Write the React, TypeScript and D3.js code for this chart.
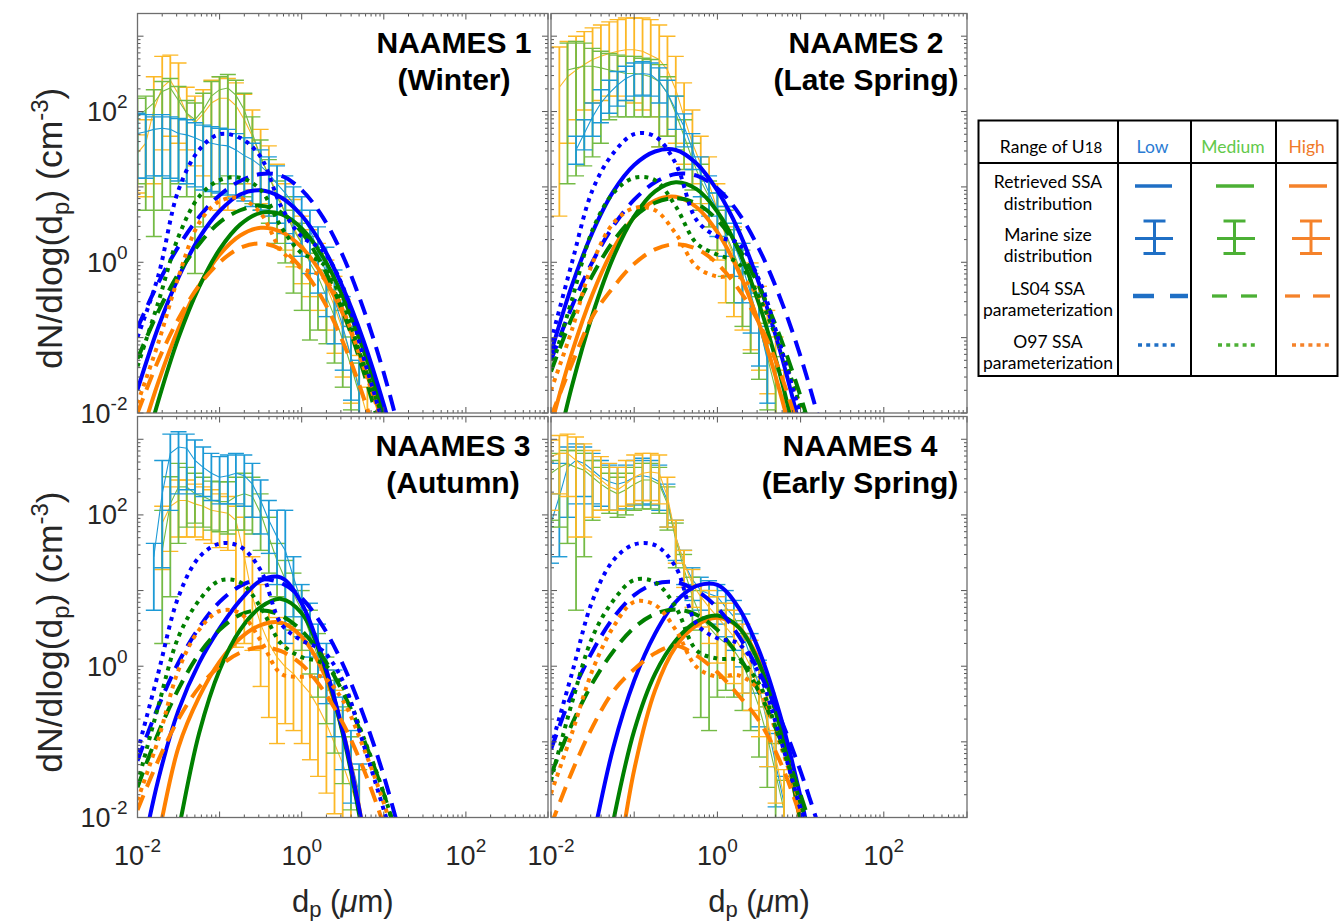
import React from 'react';
import * as d3 from 'd3';

// ---------- x grids (particle diameter, µm) ----------
const CURVE_DP = [0.01, 0.0178, 0.0316, 0.0562, 0.1, 0.178, 0.316, 0.562, 1, 1.78, 3.16, 5.62, 10, 17.8];
const MEAS_DP = [0.01, 0.0126, 0.0158, 0.02, 0.0251, 0.0316, 0.0398, 0.0501, 0.0631, 0.0794, 0.1, 0.126, 0.158, 0.2, 0.251, 0.316, 0.398, 0.501, 0.631, 0.794, 1, 1.26, 1.58, 2, 2.51, 3.16, 3.98, 5.01, 6.31];

// ---------- NAAMES 1 ----------
const N1_RET_LOW = [0.0204, 0.135, 0.63, 2.09, 4.79, 7.94, 9.0, 7.24, 4.17, 1.66, 0.468, 0.0933, 0.0129, 0.00126];
const N1_RET_MED = [0.00138, 0.0141, 0.1, 0.468, 1.48, 3.16, 4.53, 4.36, 2.82, 1.22, 0.355, 0.07, 0.0093, 0.00081];
const N1_RET_HIGH = [0.0034, 0.0251, 0.132, 0.49, 1.26, 2.27, 2.87, 2.54, 1.58, 0.685, 0.209, 0.0447, 0.0066, 0.00069];
const N1_LS04_LOW = [0.135, 0.525, 1.62, 3.98, 7.76, 12.0, 14.8, 14.1, 9.12, 4.07, 1.23, 0.245, 0.0339, 0.00316];
const N1_LS04_MED = [0.0525, 0.219, 0.708, 1.74, 3.39, 4.9, 5.62, 4.57, 2.51, 0.912, 0.224, 0.0363, 0.004, 0.00032];
const N1_LS04_HIGH = [0.01, 0.049, 0.178, 0.49, 1.0, 1.55, 1.78, 1.48, 0.832, 0.331, 0.0891, 0.0166, 0.0021, 0.0002];
const N1_O97_LOW = [0.102, 0.646, 9.12, 30.9, 50.1, 44.7, 25.1, 5.5, 2.19, 1.45, 0.479, 0.0562, 0.0066, 0.00063];
const N1_O97_MED = [0.0417, 0.288, 2.19, 7.41, 12.3, 13.2, 9.12, 2.95, 1.32, 0.977, 0.288, 0.0457, 0.0079, 0.001];
const N1_O97_HIGH = [0.0135, 0.0832, 0.646, 3.31, 6.46, 7.08, 4.47, 1.45, 0.832, 0.646, 0.234, 0.0417, 0.0063, 0.00079];

const N1_LOW_HI = [95, 91, 85, 91, 85, 81, 78, 71, 66, 63, 60, 58, 51, 45, 38, 31, 25, 19, 14, 10, 7.4, 4.9, 2.95, 1.58, 0.79, 0.35, 0.141, 0.05, null];
const N1_LOW_MID = [51, 54, 58, 60, 58, 51, 49, 45, 40, 38, 36, 35, 31, 26, 23, 19, 15, 11, 8.3, 6.0, 4.1, 2.7, 1.45, 0.71, 0.32, 0.141, 0.056, 0.02, null];
const N1_LOW_LO = [13, 13, 14, 14, 13, 12, 11, 10, 9.1, 8.7, 8.3, 7.8, 7.1, 6.5, 5.5, 4.9, 4.1, 3.3, 2.4, 1.78, 1.2, 0.71, 0.39, 0.19, 0.083, 0.037, 0.0148, 0.0063, null];
const N1_MED_HI = [150, 160, 195, 250, 275, 215, 140, 130, 175, 250, 290, 310, 260, 175, 85, 42, 23, 12, 7.4, 4.9, 3.3, 2.2, 1.32, 0.79, 0.43, 0.23, 0.102, 0.046, null];
const N1_MED_MID = [85, 105, 130, 185, 205, 140, 95, 78, 105, 160, 195, 205, 165, 105, 51, 25, 14, 7.4, 4.5, 2.7, 1.78, 0.98, 0.65, 0.35, 0.19, 0.093, 0.042, 0.018, null];
const N1_MED_LO = [11, 4.9, 2.2, 4.9, 7.4, 11, 7.4, 0.71, 2.95, 7.4, 11, 14, 11, 7.4, 6.0, 4.9, 3.3, 1.78, 0.98, 0.39, 0.23, 0.093, 0.126, 0.083, 0.046, 0.022, 0.011, 0.0063, null];
const N1_HIGH_HI = [49, 78, 290, 540, 560, 440, 210, 160, 195, 260, 290, 275, 240, 170, 105, 58, 35, 20, 11, 6.8, 4.1, 2.7, 1.78, 1.07, 0.65, 0.32, 0.141, 0.058, 0.022];
const N1_HIGH_MID = [28, 38, 105, 210, 260, 170, 93, 71, 93, 130, 150, 150, 120, 78, 47, 25, 14, 8.3, 4.5, 2.95, 1.78, 1.2, 0.79, 0.48, 0.26, 0.126, 0.056, 0.022, 0.0089];
const N1_HIGH_LO = [8.3, 7.4, 11, 31, 47, 38, 31, 19, 14, 7.4, 4.9, 4.9, 7.4, 11, 9.1, 6.0, 4.1, 2.7, 1.45, 0.87, 0.52, 0.35, 0.23, 0.126, 0.062, 0.03, 0.0135, 0.0063, 0.004];

// ---------- NAAMES 2 ----------
const N2_RET_LOW = [0.063, 0.49, 2.51, 8.71, 19.5, 29.5, 30.9, 20.4, 8.91, 2.69, 0.525, 0.0692, 0.006, 0.0004];
const N2_RET_MED = [0.0015, 0.0224, 0.204, 1.17, 4.07, 8.71, 11.5, 9.33, 4.68, 1.48, 0.282, 0.0331, 0.0024, 0.00013];
const N2_RET_HIGH = [0.0068, 0.063, 0.38, 1.51, 3.98, 6.61, 7.41, 5.37, 2.51, 0.776, 0.155, 0.0195, 0.0016, 0.0001];
const N2_LS04_LOW = [0.05, 0.257, 1.02, 3.02, 6.76, 11.5, 14.8, 14.1, 9.55, 4.57, 1.51, 0.347, 0.0562, 0.0063];
const N2_LS04_MED = [0.0355, 0.182, 0.676, 1.91, 3.98, 6.17, 7.08, 6.03, 3.63, 1.55, 0.479, 0.105, 0.0166, 0.00186];
const N2_LS04_HIGH = [0.0089, 0.0447, 0.191, 0.468, 0.955, 1.48, 1.74, 1.51, 0.955, 0.447, 0.158, 0.0355, 0.005, 0.0005];
const N2_O97_LOW = [0.0891, 0.977, 9.12, 28.2, 50.1, 46.8, 20.4, 3.63, 2.19, 1.78, 0.589, 0.0832, 0.0089, 0.00079];
const N2_O97_MED = [0.0372, 0.316, 2.69, 8.32, 13.2, 12.3, 5.5, 1.78, 1.26, 0.977, 0.347, 0.0759, 0.012, 0.00126];
const N2_O97_HIGH = [0.02, 0.126, 0.977, 3.31, 5.25, 4.9, 2.4, 0.871, 0.646, 0.646, 0.347, 0.0759, 0.011, 0.001];

const N2_LOW_HI = [null, null, null, 47, 78, 130, 195, 260, 340, 400, 440, 460, 440, 380, 260, 160, 93, 51, 25, 14, 8.3, 5.5, 3.3, 1.78, 0.87, 0.39, 0.141, null, null];
const N2_LOW_MID = [null, null, null, 31, 51, 85, 130, 175, 225, 275, 310, 320, 310, 250, 175, 105, 63, 31, 15, 8.3, 4.9, 2.95, 1.78, 0.87, 0.39, 0.155, 0.05, null, null];
const N2_LOW_LO = [null, null, null, 20, 31, 47, 71, 95, 118, 140, 160, 165, 160, 130, 85, 58, 34, 17, 7.4, 4.1, 2.2, 1.2, 0.65, 0.29, 0.115, 0.042, 0.0135, null, null];
const N2_MED_HI = [null, null, 810, 850, 810, 690, 630, 590, 560, 540, 540, 510, 490, 420, 290, 160, 78, 38, 20, 12, 8.3, 4.9, 2.7, 1.45, 0.71, 0.35, 0.155, 0.056, null];
const N2_MED_MID = [null, null, 355, 380, 400, 400, 380, 355, 340, 320, 320, 310, 290, 250, 175, 95, 47, 23, 12, 7.4, 4.5, 2.4, 1.32, 0.65, 0.32, 0.141, 0.056, 0.02, null];
const N2_MED_LO = [null, null, 11, 14, 19, 25, 38, 78, 85, 85, 85, 85, 85, 34, 47, 31, 17, 9.1, 4.9, 2.95, 1.45, 0.65, 0.29, 0.141, 0.062, 0.028, 0.011, 0.004, null];
const N2_HIGH_HI = [null, 720, 850, 1000, 1150, 1290, 1410, 1550, 1660, 1740, 1740, 1740, 1660, 1410, 1000, 540, 240, 105, 47, 25, 11, 5.5, 2.95, 1.78, 0.98, 0.48, 0.23, 0.102, 0.037];
const N2_HIGH_MID = [null, 210, 290, 355, 420, 490, 540, 590, 630, 660, 660, 630, 560, 490, 355, 195, 85, 38, 20, 11, 4.9, 2.2, 1.2, 0.65, 0.35, 0.17, 0.083, 0.034, 0.0135];
const N2_HIGH_LO = [null, 4.1, 38, 78, 105, 130, 140, 160, 160, 140, 130, 105, 85, 34, 47, 38, 20, 11, 6.0, 2.95, 1.07, 0.29, 0.19, 0.126, 0.069, 0.037, 0.018, 0.0063, 0.004];

// ---------- NAAMES 3 ----------
const N3_RET_LOW = [0.0016, 0.0309, 0.263, 1.10, 3.16, 7.41, 13.5, 14.8, 6.76, 1.32, 0.141, 0.0068, 0.00016, 0.000003];
const N3_RET_MED = [0.00001, 0.0003, 0.0068, 0.129, 0.891, 3.02, 6.03, 7.76, 5.01, 1.2, 0.129, 0.0055, 0.0001, 0.000002];
const N3_RET_HIGH = [0.00032, 0.0055, 0.0851, 0.389, 1.15, 2.34, 3.5, 3.75, 2.45, 0.891, 0.141, 0.0068, 0.0001, 0.000002];
const N3_LS04_LOW = [0.0562, 0.288, 1.12, 3.24, 7.08, 11.5, 14.1, 12.6, 7.94, 3.47, 1.07, 0.229, 0.0355, 0.0037];
const N3_LS04_MED = [0.0251, 0.129, 0.501, 1.45, 3.02, 4.79, 5.5, 4.68, 2.95, 1.35, 0.457, 0.112, 0.0204, 0.0027];
const N3_LS04_HIGH = [0.0126, 0.0562, 0.2, 0.525, 1.0, 1.51, 1.78, 1.58, 1.05, 0.501, 0.178, 0.0447, 0.0079, 0.001];
const N3_O97_LOW = [0.0741, 0.794, 8.32, 27.5, 41.7, 38.0, 18.6, 3.63, 2.19, 1.62, 0.646, 0.0955, 0.0126, 0.0016];
const N3_O97_MED = [0.0282, 0.288, 2.45, 7.41, 13.5, 12.9, 6.03, 2.0, 1.32, 1.10, 0.537, 0.117, 0.0209, 0.0025];
const N3_O97_HIGH = [0.017, 0.105, 0.891, 3.02, 5.37, 5.01, 2.19, 0.794, 0.724, 0.724, 0.355, 0.0851, 0.0155, 0.002];

const N3_LOW_HI = [null, null, 42, 525, 1170, 1260, 1170, 980, 790, 650, 590, 620, 650, 620, 480, 290, 155, 115, 115, 28, 12, 6.8, 3.6, 2.0, 0.89, 0.39, 0.141, 0.051, null];
const N3_LOW_MID = [null, null, 28, 190, 650, 790, 760, 525, 425, 355, 315, 330, 355, 330, 255, 155, 85, 51, 34, 15, 6.8, 3.6, 2.0, 0.98, 0.44, 0.158, 0.058, 0.021, null];
const N3_LOW_LO = [null, null, 5.5, 20, 115, 190, 215, 190, 175, 155, 140, 140, 140, 130, 93, 56, 31, 12, 2.0, 4.5, 2.45, 1.32, 0.72, 0.32, 0.117, 0.043, 0.0155, 0.0068, null];
const N3_MED_HI = [null, null, null, 115, 320, 480, 425, 355, 315, 280, 275, 275, 315, 355, 315, 190, 93, 42, 25, 17, 10, 5.5, 2.7, 1.32, 0.65, 0.29, 0.117, 0.043, null];
const N3_MED_MID = [null, null, null, 34, 140, 235, 235, 190, 175, 155, 150, 150, 175, 190, 175, 105, 51, 25, 14, 9.1, 5.5, 2.7, 1.32, 0.65, 0.29, 0.117, 0.047, 0.017, null];
const N3_MED_LO = [null, null, null, 2.0, 8.3, 42, 69, 78, 69, 63, 60, 56, 63, 63, 56, 34, 17, 8.3, 3.6, 3.0, 1.62, 0.79, 0.39, 0.174, 0.071, 0.028, 0.0126, 0.0055, null];
const N3_HIGH_HI = [null, null, null, 130, 235, 290, 290, 255, 235, 215, 190, 175, 130, 93, 28, 12, 5.5, 4.4, 3.6, 3.0, 2.45, 2.0, 1.45, 0.89, 0.48, 0.26, 0.117, 0.043, null];
const N3_HIGH_MID = [null, null, null, 78, 130, 155, 155, 140, 130, 115, 110, 105, 85, 28, 8.3, 3.6, 2.0, 1.32, 0.98, 0.79, 0.59, 0.44, 0.29, 0.174, 0.095, 0.051, 0.025, 0.0126, null];
const N3_HIGH_LO = [null, null, null, 19, 33, 51, 51, 51, 47, 42, 37, 34, 1.78, 2.0, 1.62, 0.54, 0.21, 0.095, 0.174, 0.141, 0.095, 0.058, 0.035, 0.021, 0.0112, 0.0068, 0.0046, 0.0046, null];

// ---------- NAAMES 4 ----------
const N4_RET_LOW = [0.00001, 0.0003, 0.005, 0.0851, 0.646, 2.69, 7.08, 11.5, 11.9, 6.03, 1.62, 0.234, 0.0186, 0.001];
const N4_RET_MED = [0.0000005, 0.00001, 0.00025, 0.0091, 0.141, 0.794, 2.19, 3.89, 4.68, 3.31, 1.10, 0.158, 0.0091, 0.00025];
const N4_RET_HIGH = [0.00000005, 0.000001, 0.00003, 0.001, 0.0427, 0.479, 1.82, 3.47, 4.37, 3.31, 1.2, 0.174, 0.0083, 0.0002];
const N4_LS04_LOW = [0.0794, 0.427, 1.58, 4.37, 8.71, 12.3, 12.9, 10.0, 5.89, 2.57, 0.851, 0.214, 0.0407, 0.0059];
const N4_LS04_MED = [0.0372, 0.17, 0.603, 1.58, 3.24, 4.9, 5.62, 4.79, 3.02, 1.38, 0.457, 0.112, 0.02, 0.0025];
const N4_LS04_HIGH = [0.0079, 0.0398, 0.158, 0.468, 0.912, 1.48, 1.86, 1.38, 0.832, 0.417, 0.191, 0.0562, 0.01, 0.001];
const N4_O97_LOW = [0.0851, 0.794, 7.41, 25.1, 40.7, 39.8, 20.4, 3.63, 2.34, 2.0, 0.794, 0.117, 0.0126, 0.00126];
const N4_O97_MED = [0.0309, 0.324, 2.45, 7.41, 13.8, 12.9, 6.03, 1.62, 1.26, 1.2, 0.589, 0.105, 0.0155, 0.0016];
const N4_O97_HIGH = [0.0209, 0.129, 0.891, 3.31, 7.08, 6.46, 3.02, 0.977, 0.724, 0.759, 0.479, 0.0955, 0.0138, 0.0016];

const N4_LOW_HI = [190, 480, 790, 870, 790, 650, 525, 455, 425, 455, 525, 560, 525, 455, 255, 85, 34, 20, 15, 13.5, 12, 10, 7.4, 4.9, 2.7, 1.2, 0.44, 0.129, 0.035];
const N4_LOW_MID = [78, 175, 425, 525, 480, 390, 315, 275, 255, 275, 315, 330, 315, 275, 155, 51, 23, 14, 10, 9.1, 8.3, 6.0, 4.5, 2.7, 1.32, 0.54, 0.174, 0.051, 0.0155];
const N4_LOW_LO = [23, 28, 93, 140, 175, 140, 130, 115, 115, 120, 135, 140, 135, 115, 69, 25, 12, 7.4, 5.5, 4.5, 3.6, 2.45, 1.62, 0.98, 0.44, 0.158, 0.047, 0.0138, 0.0055];
const N4_MED_HI = [525, 650, 710, 710, 650, 525, 425, 355, 315, 355, 425, 480, 480, 425, 235, 78, 30, 15, 10, 8.3, 6.8, 5.5, 4.0, 2.7, 1.45, 0.72, 0.29, 0.095, 0.031];
const N4_MED_MID = [355, 425, 480, 425, 390, 315, 255, 215, 190, 215, 255, 290, 290, 255, 140, 47, 19, 8.3, 4.5, 3.3, 2.45, 2.0, 1.62, 1.1, 0.59, 0.29, 0.117, 0.038, 0.0126];
const N4_MED_LO = [85, 69, 42, 5.5, 28, 85, 115, 105, 93, 100, 115, 120, 120, 105, 63, 20, 8.3, 3.0, 0.21, 0.141, 0.39, 0.48, 0.39, 0.26, 0.141, 0.063, 0.025, 0.0091, 0.0046];
const N4_HIGH_HI = [980, 1120, 1170, 1070, 870, 710, 590, 480, 425, 525, 620, 650, 650, 620, 315, 85, 34, 19, 12, 10, 8.3, 6.8, 5.5, 3.6, 2.2, 1.1, 0.44, 0.141, 0.043];
const N4_HIGH_MID = [590, 650, 650, 525, 425, 355, 290, 235, 215, 255, 315, 355, 370, 355, 175, 51, 23, 12, 8.3, 6.0, 4.5, 3.3, 2.45, 1.62, 0.98, 0.48, 0.195, 0.063, 0.0186];
const N4_HIGH_LO = [115, 190, 175, 51, 51, 93, 115, 115, 115, 130, 140, 155, 155, 140, 69, 23, 11, 6.0, 3.3, 2.0, 1.1, 0.72, 0.59, 0.44, 0.26, 0.117, 0.047, 0.0155, 0.0068];

// ---------- labels ----------
const TITLES = ['NAAMES 1', 'NAAMES 2', 'NAAMES 3', 'NAAMES 4'];
const SEASONS = ['(Winter)', '(Late Spring)', '(Autumn)', '(Early Spring)'];
const LABELED_TICKS = [0.01, 1, 100];
const LEGEND_ROWS = [['Retrieved SSA', 'distribution'], ['Marine size', 'distribution'], ['LS04 SSA', 'parameterization'], ['O97 SSA', 'parameterization']];
const LEGEND_COLS = ['Low', 'Medium', 'High'];

// ---------- tables built from the arrays ----------
const RET = [[N1_RET_LOW, N1_RET_MED, N1_RET_HIGH], [N2_RET_LOW, N2_RET_MED, N2_RET_HIGH], [N3_RET_LOW, N3_RET_MED, N3_RET_HIGH], [N4_RET_LOW, N4_RET_MED, N4_RET_HIGH]];
const LS04 = [[N1_LS04_LOW, N1_LS04_MED, N1_LS04_HIGH], [N2_LS04_LOW, N2_LS04_MED, N2_LS04_HIGH], [N3_LS04_LOW, N3_LS04_MED, N3_LS04_HIGH], [N4_LS04_LOW, N4_LS04_MED, N4_LS04_HIGH]];
const O97 = [[N1_O97_LOW, N1_O97_MED, N1_O97_HIGH], [N2_O97_LOW, N2_O97_MED, N2_O97_HIGH], [N3_O97_LOW, N3_O97_MED, N3_O97_HIGH], [N4_O97_LOW, N4_O97_MED, N4_O97_HIGH]];
const MEAS_HI = [[N1_LOW_HI, N1_MED_HI, N1_HIGH_HI], [N2_LOW_HI, N2_MED_HI, N2_HIGH_HI], [N3_LOW_HI, N3_MED_HI, N3_HIGH_HI], [N4_LOW_HI, N4_MED_HI, N4_HIGH_HI]];
const MEAS_MID = [[N1_LOW_MID, N1_MED_MID, N1_HIGH_MID], [N2_LOW_MID, N2_MED_MID, N2_HIGH_MID], [N3_LOW_MID, N3_MED_MID, N3_HIGH_MID], [N4_LOW_MID, N4_MED_MID, N4_HIGH_MID]];
const MEAS_LO = [[N1_LOW_LO, N1_MED_LO, N1_HIGH_LO], [N2_LOW_LO, N2_MED_LO, N2_HIGH_LO], [N3_LOW_LO, N3_MED_LO, N3_HIGH_LO], [N4_LOW_LO, N4_MED_LO, N4_HIGH_LO]];

// ---------- style ----------
const FONT = '"Liberation Sans", Arial, Helvetica, sans-serif';
const LEG_FONT = 'Lato, "Open Sans", sans-serif';
const MEAS_COLORS = ['#1c9ad6', '#74bb45', '#fcb826'];
const CURVE_COLORS = ['#0000ff', '#008000', '#ff8000'];
const LEG_LINE = ['#1f6fc5', '#4cb035', '#f5822a'];
const LEG_TEXT = ['#2a7bd3', '#62c94a', '#f07a28'];

const LAYOUT = [
  { left: 137.5, right: 548, top: 13.5, bottom: 413, titleX: 454, showX: false, showY: true, order: [2, 1, 0] },
  { left: 551, right: 967, top: 13.5, bottom: 413, titleX: 866, showX: false, showY: false, order: [2, 1, 0] },
  { left: 137.5, right: 548, top: 416.5, bottom: 817.5, titleX: 453, showX: true, showY: true, order: [2, 1, 0] },
  { left: 551, right: 967, top: 416.5, bottom: 817.5, titleX: 860, showX: true, showY: false, order: [0, 1, 2] },
];
// legend symbol geometry per column (Low, Medium, High)
const LEG_SOLID = [[1135, 1172], [1216, 1254], [1289, 1327]];
const LEG_ERR = [[1135, 1173, 1154.5], [1217, 1255, 1234.5], [1292, 1330, 1311]];
const LEG_DASH = [[[1133, 1154], [1170, 1188]], [[1212, 1227], [1241, 1257]], [[1285, 1300], [1313, 1330]]];
const LEG_DOT = [[1138, 1175], [1218, 1255], [1292, 1329]];

const zip = (xs: number[], ys: (number | null)[]) => xs.map((v, k) => [v, ys[k]] as [number, number | null]);
const isDecade = (v: number) => Math.abs(Math.log10(v) - Math.round(Math.log10(v))) < 1e-6;

function PowLabel({ x, y, value, anchor }: { x: number; y: number; value: number; anchor: string }) {
  const e = Math.round(Math.log10(value));
  return (
    <text x={x} y={y} textAnchor={anchor} fontFamily={FONT} fontSize={27} fill="#262626">
      10<tspan dy={-13} fontSize={19}>{e < 0 ? '-' + -e : String(e)}</tspan>
    </text>
  );
}

function Panel({ i }: { i: number }) {
  const L = LAYOUT[i];
  const x = d3.scaleLog().domain([0.01, 1000]).range([L.left, L.right]);
  const y = d3.scaleLog().domain([0.01, 2000]).range([L.bottom, L.top]);
  const curve = d3.line<[number, number]>().x(d => x(d[0])).y(d => y(d[1])).curve(d3.curveCatmullRom.alpha(0.5));
  const mean = d3.line<[number, number | null]>().defined(d => d[1] != null).x(d => x(d[0])).y(d => y(d[1] as number));
  const clipId = `clip-${i}`;
  const xt = x.ticks();
  const yt = y.ticks();
  const tickCol = '#555';
  const order = [2, 1, 0];
  return (
    <g>
      <defs>
        <clipPath id={clipId}>
          <rect x={L.left} y={L.top} width={L.right - L.left} height={L.bottom - L.top} />
        </clipPath>
      </defs>
      <rect x={L.left} y={L.top} width={L.right - L.left} height={L.bottom - L.top} fill="#fff" />
      <g clipPath={`url(#${clipId})`}>
        {L.order.map(s => {
          const lo = MEAS_LO[i][s], mid = MEAS_MID[i][s], hi = MEAS_HI[i][s];
          return (
            <g key={'m' + s} stroke={MEAS_COLORS[s]} fill="none">
              {MEAS_DP.map((dp, k) => {
                if (mid[k] == null) return null;
                const cx = x(dp), yh = y(hi[k] as number), yl = y(lo[k] as number);
                return (
                  <g key={k}>
                    <line x1={cx} x2={cx} y1={yl} y2={yh} strokeWidth={1.8} />
                    <line x1={cx - 8} x2={cx + 8} y1={yh} y2={yh} strokeWidth={1.4} />
                    <line x1={cx - 8} x2={cx + 8} y1={yl} y2={yl} strokeWidth={1.4} />
                  </g>
                );
              })}
              <path d={mean(zip(MEAS_DP, mid)) || ''} strokeWidth={1.1} />
            </g>
          );
        })}
        {order.map(s => (
          <path key={'r' + s} d={curve(zip(CURVE_DP, RET[i][s]) as [number, number][]) || ''} fill="none" stroke={CURVE_COLORS[s]} strokeWidth={4} />
        ))}
        {order.map(s => (
          <path key={'l' + s} d={curve(zip(CURVE_DP, LS04[i][s]) as [number, number][]) || ''} fill="none" stroke={CURVE_COLORS[s]} strokeWidth={4} strokeDasharray="16,9" />
        ))}
        {order.map(s => (
          <path key={'o' + s} d={curve(zip(CURVE_DP, O97[i][s]) as [number, number][]) || ''} fill="none" stroke={CURVE_COLORS[s]} strokeWidth={4} strokeDasharray="4,5" />
        ))}
      </g>
      <g stroke={tickCol} strokeWidth={1}>
        {xt.map((v, k) => {
          const len = isDecade(v) ? 6 : 3;
          const px = x(v);
          return (
            <g key={'xt' + k}>
              <line x1={px} x2={px} y1={L.bottom} y2={L.bottom - len} />
              <line x1={px} x2={px} y1={L.top} y2={L.top + len} />
            </g>
          );
        })}
        {yt.map((v, k) => {
          const len = isDecade(v) ? 6 : 3;
          const py = y(v);
          return (
            <g key={'yt' + k}>
              <line x1={L.left} x2={L.left + len} y1={py} y2={py} />
              <line x1={L.right} x2={L.right - len} y1={py} y2={py} />
            </g>
          );
        })}
      </g>
      <rect x={L.left} y={L.top} width={L.right - L.left} height={L.bottom - L.top} fill="none" stroke="#6e6e6e" strokeWidth={1.3} />
      {L.showY && LABELED_TICKS.map(v => <PowLabel key={'yl' + v} x={L.left - 10} y={y(v) + 9.5} value={v} anchor="end" />)}
      {L.showX && LABELED_TICKS.map(v => <PowLabel key={'xl' + v} x={x(v)} y={L.bottom + 47.5} value={v} anchor="middle" />)}
      <g fontFamily={FONT} fontWeight="bold" fontSize={30} fill="#000" textAnchor="middle">
        <text x={L.titleX} y={L.top + 39.5}>{TITLES[i]}</text>
        <text x={L.titleX} y={L.top + 76.5}>{SEASONS[i]}</text>
      </g>
      {L.showY && (
        <text transform={`translate(62, ${(L.top + L.bottom) / 2 + 15}) rotate(-90)`} textAnchor="middle" fontFamily={FONT} fontSize={35.5} fill="#262626">
          dN/dlog(d<tspan dy={7} fontSize={24}>p</tspan><tspan dy={-7}>) (cm</tspan><tspan dy={-14} fontSize={24}>-3</tspan><tspan dy={14}>)</tspan>
        </text>
      )}
      {L.showX && (
        <text x={(L.left + L.right) / 2} y={912} textAnchor="middle" fontFamily={FONT} fontSize={31} fill="#262626">
          d<tspan dy={5} fontSize={22}>p</tspan><tspan dy={-5}> (</tspan><tspan fontStyle="italic">μ</tspan>m)
        </text>
      )}
    </g>
  );
}

function Legend() {
  const rowsY = [[188.3, 210], [241, 261.7], [295, 316], [348.3, 369.3]];
  return (
    <g fontFamily={LEG_FONT} fontSize={17.5}>
      <rect x={978.5} y={120.5} width={359} height={255.5} fill="#fff" stroke="#000" strokeWidth={2} />
      <g stroke="#000" strokeWidth={2}>
        <line x1={1118} x2={1118} y1={120.5} y2={376} />
        <line x1={1191} x2={1191} y1={120.5} y2={376} />
        <line x1={1276} x2={1276} y1={120.5} y2={376} />
        <line x1={978.5} x2={1337.5} y1={163} y2={163} />
      </g>
      <text x={1051} y={152.7} textAnchor="middle" fill="#000">
        Range of U<tspan fontSize={15}>18</tspan>
      </text>
      {LEGEND_COLS.map((c, k) => (
        <text key={c} x={[1152.5, 1233, 1306.7][k]} y={152.7} textAnchor="middle" fill={LEG_TEXT[k]}>{c}</text>
      ))}
      {LEGEND_ROWS.map((r, k) => (
        <g key={'row' + k} fill="#000" textAnchor="middle">
          <text x={1048} y={rowsY[k][0]}>{r[0]}</text>
          <text x={1048} y={rowsY[k][1]}>{r[1]}</text>
        </g>
      ))}
      {[0, 1, 2].map(k => {
        const [ex1, ex2, ev] = LEG_ERR[k];
        const dw = k === 0 ? 4.5 : 3.3;
        return (
          <g key={'sym' + k} stroke={LEG_LINE[k]} fill="none">
            <line x1={LEG_SOLID[k][0]} x2={LEG_SOLID[k][1]} y1={186} y2={186} strokeWidth={3.5} />
            <line x1={ex1} x2={ex2} y1={238.5} y2={238.5} strokeWidth={3} />
            <line x1={ev} x2={ev} y1={221} y2={253.5} strokeWidth={3} />
            <line x1={ev - 11} x2={ev + 11} y1={221} y2={221} strokeWidth={3} />
            <line x1={ev - 11} x2={ev + 11} y1={253.5} y2={253.5} strokeWidth={3} />
            {LEG_DASH[k].map((d, j) => (
              <line key={j} x1={d[0]} x2={d[1]} y1={296} y2={296} strokeWidth={dw} />
            ))}
            <line x1={LEG_DOT[k][0]} x2={LEG_DOT[k][1]} y1={345} y2={345} strokeWidth={3.3} strokeDasharray="4,4.2" />
          </g>
        );
      })}
    </g>
  );
}

export default function App() {
  return (
    <svg width={1339} height={921} viewBox="0 0 1339 921" style={{ position: 'absolute', left: 0, top: 0, background: '#fff' }}>
      <rect x={0} y={0} width={1339} height={921} fill="#fff" />
      {[0, 1, 2, 3].map(i => <Panel key={i} i={i} />)}
      <Legend />
    </svg>
  );
}
